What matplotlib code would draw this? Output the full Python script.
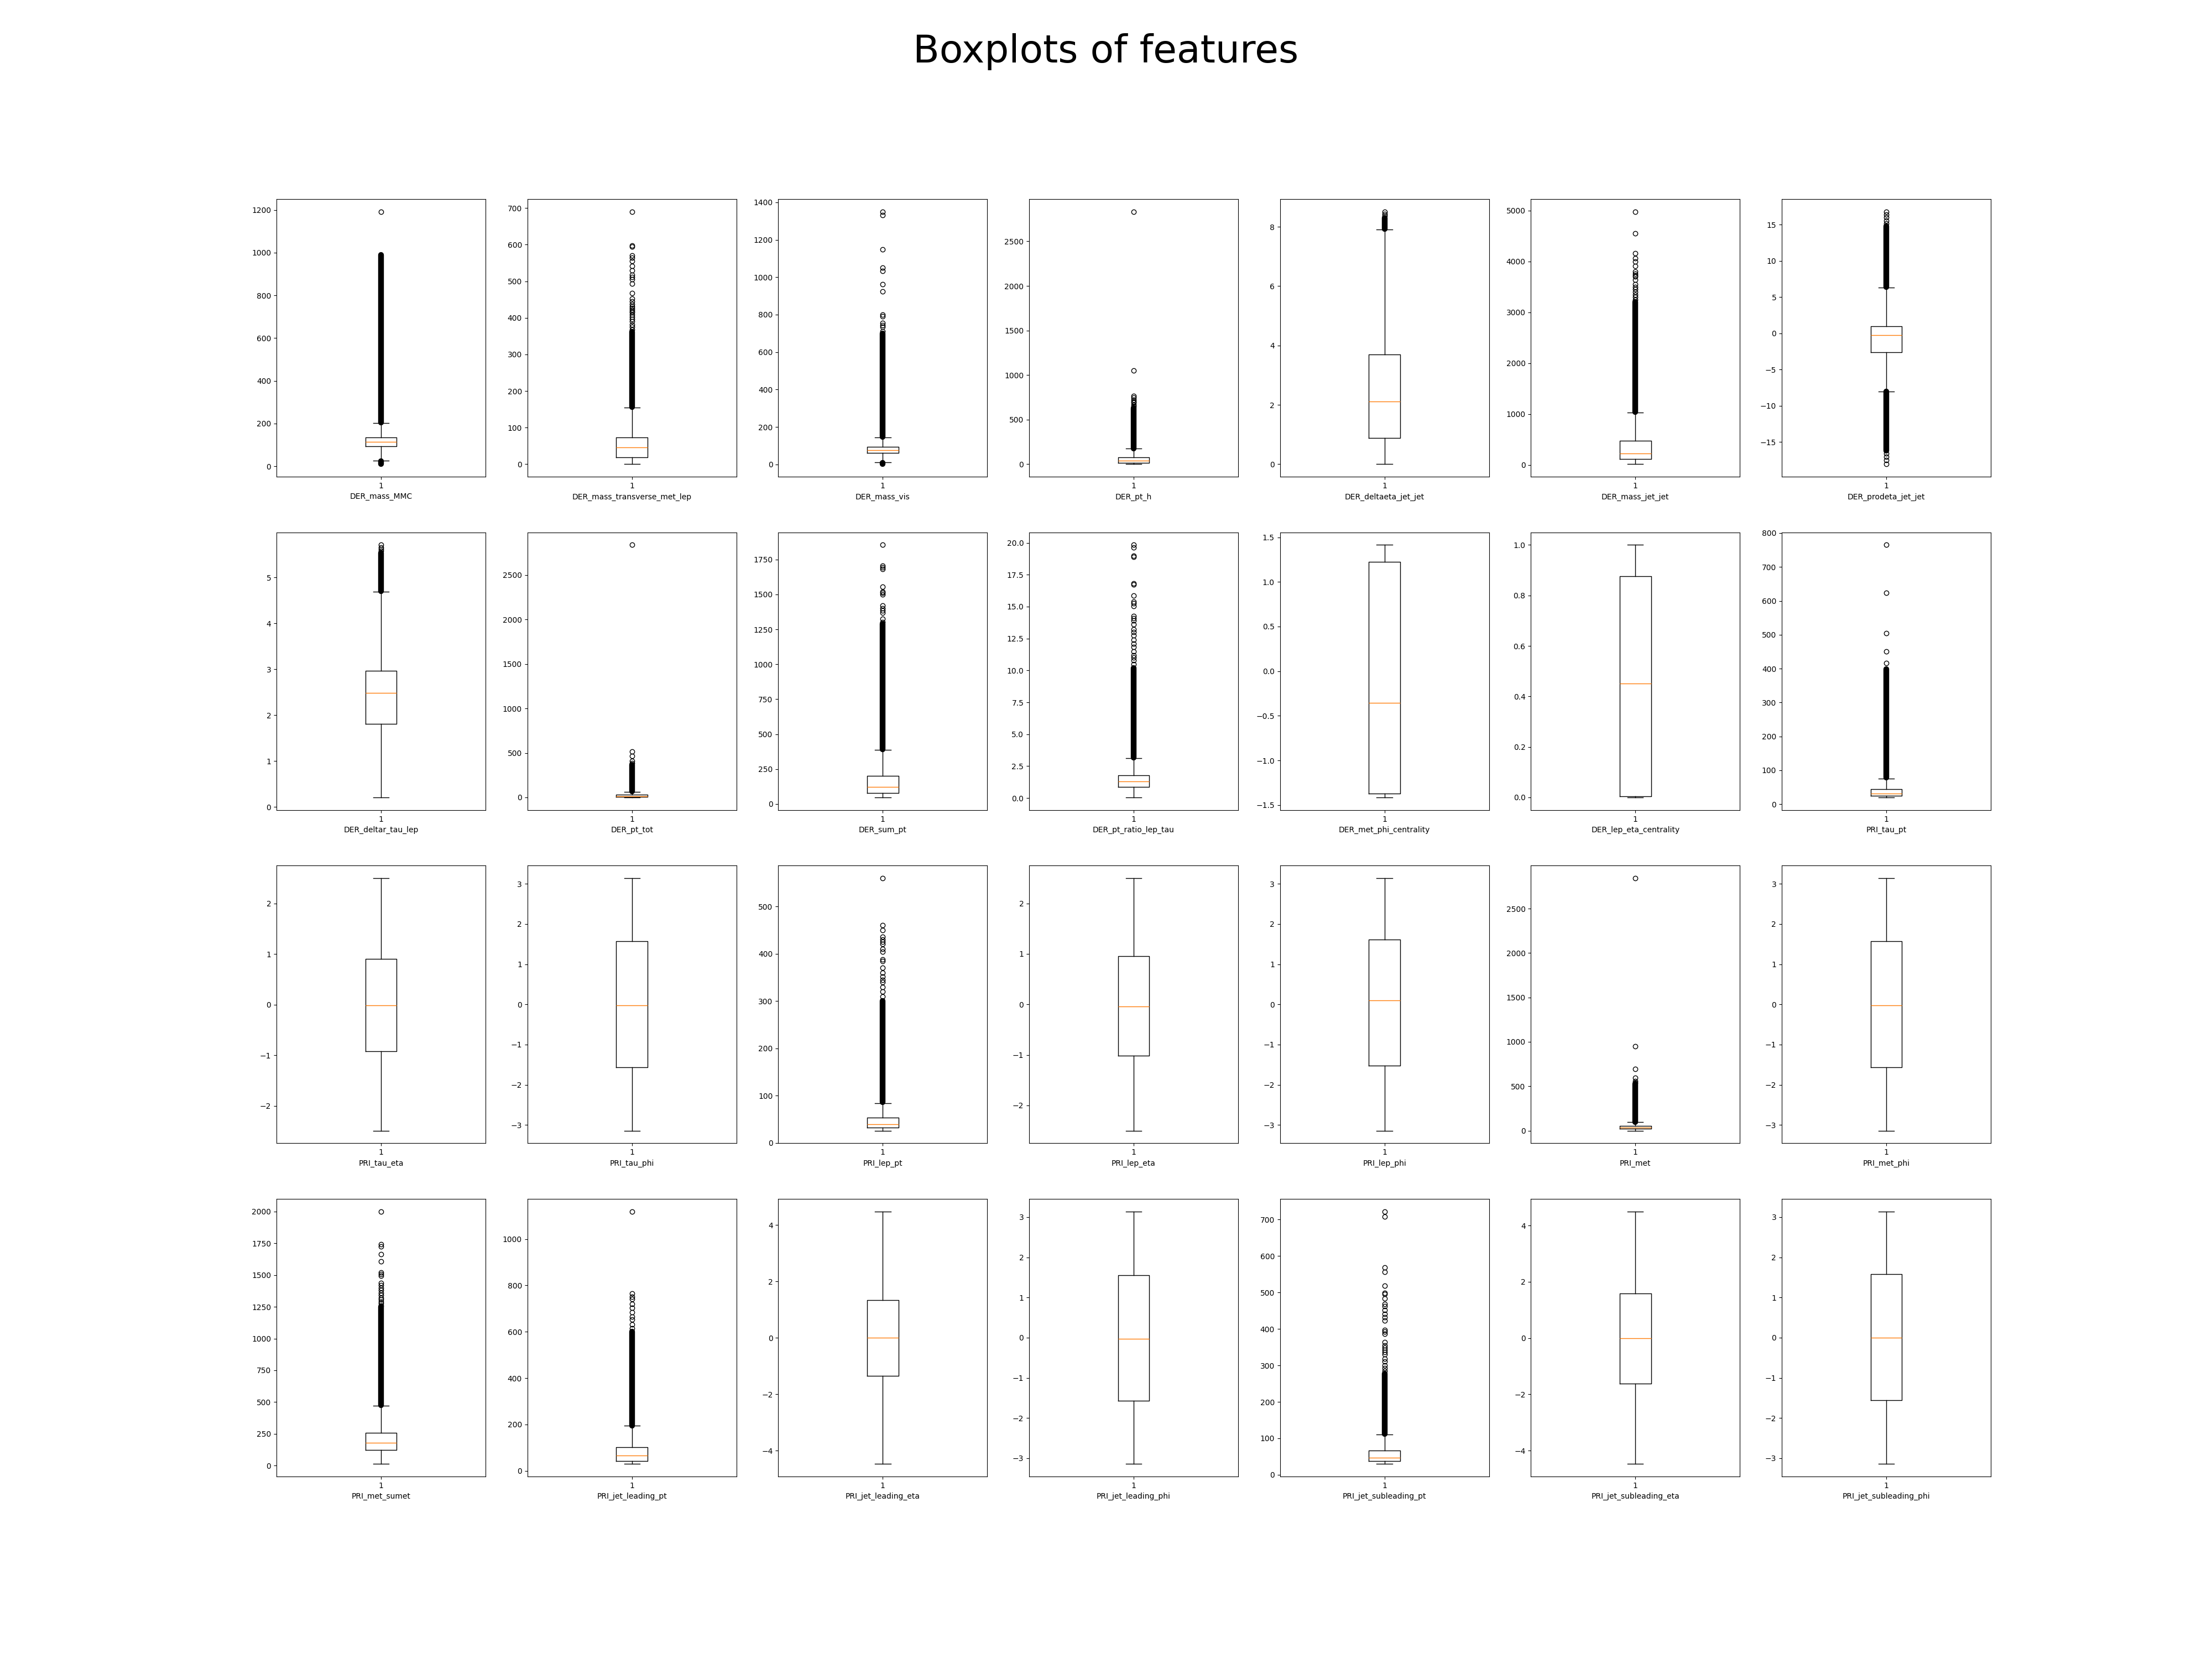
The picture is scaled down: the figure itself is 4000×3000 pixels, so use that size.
import matplotlib
matplotlib.use('Agg')
import matplotlib.pyplot as plt

# feature names (one panel each)
features = ['DER_mass_MMC', 'DER_mass_transverse_met_lep', 'DER_mass_vis', 'DER_pt_h',
            'DER_deltaeta_jet_jet', 'DER_mass_jet_jet', 'DER_prodeta_jet_jet',
            'DER_deltar_tau_lep', 'DER_pt_tot', 'DER_sum_pt', 'DER_pt_ratio_lep_tau',
            'DER_met_phi_centrality', 'DER_lep_eta_centrality', 'PRI_tau_pt',
            'PRI_tau_eta', 'PRI_tau_phi', 'PRI_lep_pt', 'PRI_lep_eta', 'PRI_lep_phi',
            'PRI_met', 'PRI_met_phi',
            'PRI_met_sumet', 'PRI_jet_leading_pt', 'PRI_jet_leading_eta', 'PRI_jet_leading_phi',
            'PRI_jet_subleading_pt', 'PRI_jet_subleading_eta', 'PRI_jet_subleading_phi']

# box statistics
whislo = [26, 0, 11, 0, 0.0, 14, -7.99,
          0.21, 0, 47, 0.05, -1.414, 0.0, 20,
          -2.49, -3.14, 26, -2.5, -3.14, 0.1, -3.14,
          14, 30, -4.47, -3.14, 30, -4.47, -3.14]
q1 = [93, 19, 61, 12, 0.88, 114, -2.62,
      1.81, 3, 77, 0.88, -1.37, 0.005, 25,
      -0.92, -1.57, 32, -1.01, -1.52, 21, -1.57,
      124, 42, -1.34, -1.57, 38, -1.61, -1.56]
med = [114, 46, 75, 37, 2.11, 226, -0.2,
       2.49, 12, 121, 1.31, -0.356, 0.452, 31,
       -0.017, -0.03, 40, -0.04, 0.095, 34, -0.02,
       180, 66, 0.0, -0.03, 47, 0.0, 0.0]
q3 = [135, 73, 93, 76, 3.69, 478, 1.02,
      2.97, 28, 201, 1.79, 1.225, 0.877, 45,
      0.904, 1.57, 54, 0.96, 1.62, 52, 1.57,
      260, 103, 1.34, 1.56, 66, 1.59, 1.58]
whishi = [203, 154, 144, 174, 7.91, 1032, 6.36,
          4.69, 64, 387, 3.13, 1.414, 1.0, 76,
          2.5, 3.14, 84, 2.5, 3.14, 97, 3.14,
          471, 194, 4.48, 3.14, 110, 4.5, 3.14]

# runs of outliers so dense that they merge into a solid column (lo, hi)
dense_up = [(205, 990), (156, 362), (146, 700), (176, 630), (7.93, 8.3), (1035, 3200), (6.4, 14.8),
            (4.7, 5.54), (66, 365), (390, 1291), (3.16, 10.2), None, None, (78, 399),
            None, None, (86, 300), None, None, (99, 528), None,
            (474, 1250), (196, 600), None, None, (112, 278), None, None]
dense_low = [(10, 24), None, (1, 8), None, None, None, (-16.2, -8.05)] + [None] * 21

# separate outliers
fliers = [
    [1192],
    [368, 375, 382, 390, 396, 402, 408, 414, 418, 422, 427, 432, 438, 445, 452, 468, 493,
     506, 511, 518, 529, 541, 555, 564, 571, 594, 597, 690],
    [712, 736, 745, 756, 790, 801, 925, 961, 1034, 1051, 1150, 1332, 1350],
    [645, 665, 690, 705, 720, 749, 768, 1050, 2833],
    [8.38, 8.44, 8.51],
    [3250, 3300, 3350, 3400, 3450, 3500, 3557, 3640, 3700, 3723, 3760, 3806, 3910, 3993,
     4064, 4160, 4555, 4979],
    [15.2, 15.6, 16.0, 16.4, 16.8, -16.6, -17.0, -17.5, -18.05],
    [5.58, 5.62, 5.66, 5.71],
    [385, 411, 466, 518, 2839],
    [1300, 1325, 1370, 1385, 1400, 1420, 1500, 1511, 1520, 1556, 1680, 1692, 1707, 1854],
    [10.5, 10.8, 11.0, 11.2, 11.5, 11.85, 12.1, 12.4, 12.75, 13.0, 13.2, 13.6, 13.9, 14.1,
     14.24, 15.05, 15.25, 15.4, 15.86, 16.73, 16.8, 18.9, 18.99, 19.65, 19.83],
    [],
    [],
    [416, 450, 505, 623, 765],
    [],
    [],
    [310, 320, 330, 340, 345, 352, 360, 370, 385, 388, 405, 410, 421, 425, 430, 436, 450,
     461, 560],
    [],
    [],
    [540, 557, 595, 695, 952, 2843],
    [],
    [1260, 1275, 1290, 1305, 1320, 1340, 1360, 1380, 1400, 1420, 1439, 1492, 1505, 1522,
     1606, 1663, 1723, 1740, 2000],
    [615, 632, 652, 665, 683, 702, 720, 742, 752, 766, 1119],
    [],
    [],
    [285, 292, 300, 310, 319, 330, 336, 342, 348, 355, 363, 386, 392, 397, 423, 432, 441,
     451, 463, 468, 484, 495, 498, 519, 557, 569, 708, 722],
    [],
    [],
]

fig, axes = plt.subplots(4, 7, figsize=(40, 30))
fig.suptitle('Boxplots of features', fontsize=50)

for i, ax in enumerate(axes.flat):
    stats = {'whislo': whislo[i], 'q1': q1[i], 'med': med[i], 'q3': q3[i],
             'whishi': whishi[i], 'fliers': fliers[i], 'label': '1'}
    ax.bxp([stats])
    # dense outlier runs drawn as a solid column the width of a flier marker
    for band in (dense_up[i], dense_low[i]):
        if band is not None:
            ax.vlines(1, band[0], band[1], colors='black', linewidth=7.5,
                      capstyle='round', zorder=1.5)
    ax.set_xlabel(features[i])

plt.savefig('out.png', dpi=100)
